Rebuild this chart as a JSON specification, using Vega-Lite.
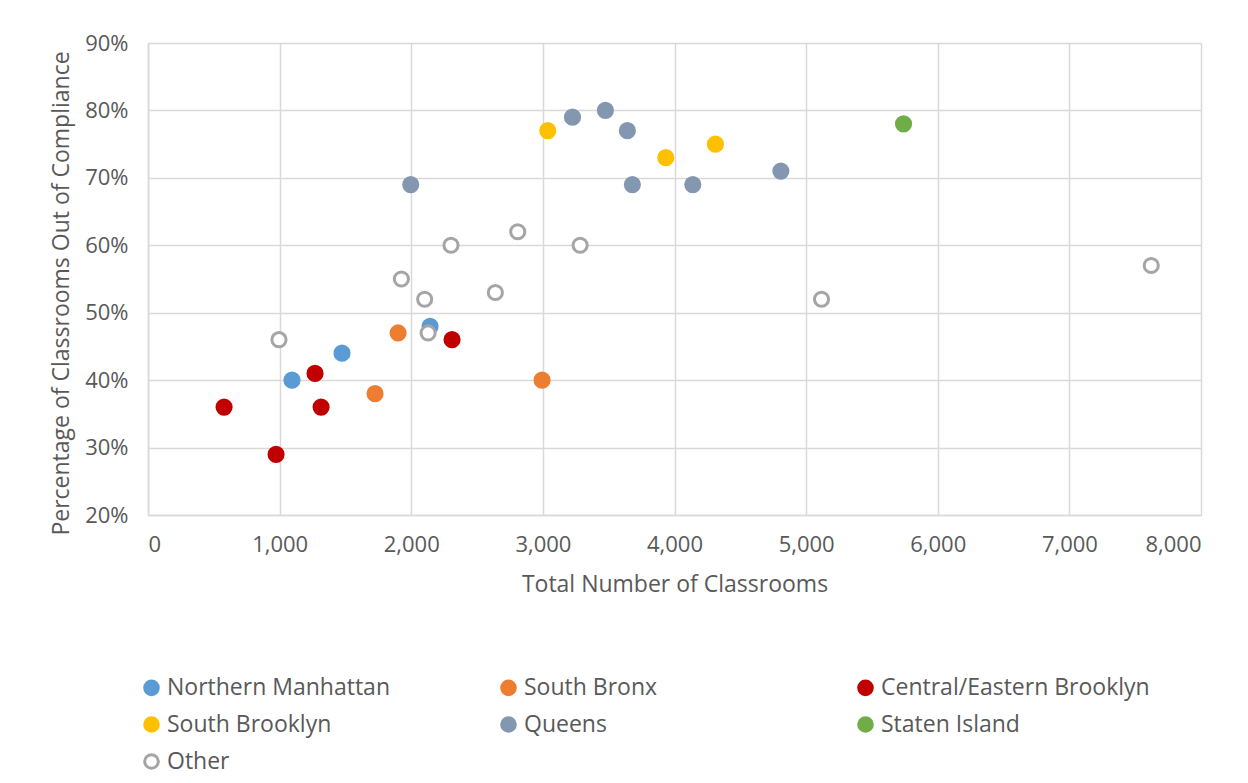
{
  "$schema": "https://vega.github.io/schema/vega-lite/v6.json",
  "autosize": {"type": "none"},
  "width": 1053,
  "height": 472,
  "padding": {"left": 148, "top": 43, "right": 47, "bottom": 268},
  "background": "white",
  "config": {
    "font": "Open Sans",
    "view": {"stroke": null},
    "axis": {
      "labelFont": "Open Sans",
      "titleFont": "Open Sans",
      "labelColor": "#595959",
      "titleColor": "#595959",
      "labelFontSize": 22,
      "titleFontSize": 23,
      "titleFontWeight": "normal",
      "gridColor": "#D9D9D9",
      "gridWidth": 1.5,
      "domainColor": "#D9D9D9",
      "domainWidth": 1.5,
      "ticks": false
    },
    "legend": {
      "labelFont": "Open Sans",
      "labelColor": "#595959",
      "labelFontSize": 23,
      "labelLimit": 500
    }
  },
  "data": {
    "values": [
      {"region": "Northern Manhattan", "classrooms": 1094, "pct": 0.40},
      {"region": "Northern Manhattan", "classrooms": 1474, "pct": 0.44},
      {"region": "Northern Manhattan", "classrooms": 2143, "pct": 0.48},
      {"region": "South Bronx", "classrooms": 1725, "pct": 0.38},
      {"region": "South Bronx", "classrooms": 1900, "pct": 0.47},
      {"region": "South Bronx", "classrooms": 2994, "pct": 0.40},
      {"region": "Central/Eastern Brooklyn", "classrooms": 578, "pct": 0.36},
      {"region": "Central/Eastern Brooklyn", "classrooms": 973, "pct": 0.29},
      {"region": "Central/Eastern Brooklyn", "classrooms": 1269, "pct": 0.41},
      {"region": "Central/Eastern Brooklyn", "classrooms": 1315, "pct": 0.36},
      {"region": "Central/Eastern Brooklyn", "classrooms": 2310, "pct": 0.46},
      {"region": "South Brooklyn", "classrooms": 3037, "pct": 0.77},
      {"region": "South Brooklyn", "classrooms": 3934, "pct": 0.73},
      {"region": "South Brooklyn", "classrooms": 4311, "pct": 0.75},
      {"region": "Queens", "classrooms": 1996, "pct": 0.69},
      {"region": "Queens", "classrooms": 3225, "pct": 0.79},
      {"region": "Queens", "classrooms": 3475, "pct": 0.80},
      {"region": "Queens", "classrooms": 3642, "pct": 0.77},
      {"region": "Queens", "classrooms": 3680, "pct": 0.69},
      {"region": "Queens", "classrooms": 4139, "pct": 0.69},
      {"region": "Queens", "classrooms": 4808, "pct": 0.71},
      {"region": "Staten Island", "classrooms": 5740, "pct": 0.78},
      {"region": "Other", "classrooms": 995, "pct": 0.46},
      {"region": "Other", "classrooms": 1925, "pct": 0.55},
      {"region": "Other", "classrooms": 2102, "pct": 0.52},
      {"region": "Other", "classrooms": 2128, "pct": 0.47},
      {"region": "Other", "classrooms": 2302, "pct": 0.60},
      {"region": "Other", "classrooms": 2639, "pct": 0.53},
      {"region": "Other", "classrooms": 2809, "pct": 0.62},
      {"region": "Other", "classrooms": 3283, "pct": 0.60},
      {"region": "Other", "classrooms": 5117, "pct": 0.52},
      {"region": "Other", "classrooms": 7622, "pct": 0.57}
    ]
  },
  "mark": {"type": "point", "shape": "circle", "size": 200, "strokeWidth": 3, "opacity": 1},
  "encoding": {
    "x": {
      "field": "classrooms",
      "type": "quantitative",
      "title": "Total Number of Classrooms",
      "scale": {"domain": [0, 8000], "nice": false},
      "axis": {"values": [0, 1000, 2000, 3000, 4000, 5000, 6000, 7000, 8000], "format": ",d", "labelPadding": 19, "titlePadding": 18}
    },
    "y": {
      "field": "pct",
      "type": "quantitative",
      "title": "Percentage of Classrooms Out of Compliance",
      "scale": {"domain": [0.2, 0.9], "nice": false, "zero": false},
      "axis": {"values": [0.2, 0.3, 0.4, 0.5, 0.6, 0.7, 0.8, 0.9], "format": ".0%", "labelPadding": 20, "titlePadding": 11, "titleY": 250}
    },
    "fill": {
      "field": "region",
      "type": "nominal",
      "scale": {
        "domain": ["Northern Manhattan", "South Bronx", "Central/Eastern Brooklyn", "South Brooklyn", "Queens", "Staten Island", "Other"],
        "range": ["#5B9BD5", "#ED7D31", "#C00000", "#FFC000", "#8497B0", "#70AD47", "#FFFFFF"]
      },
      "legend": {
        "title": null,
        "orient": "none",
        "legendX": -8,
        "legendY": 633,
        "direction": "horizontal",
        "columns": 3,
        "gridAlign": "all",
        "columnPadding": 59,
        "rowPadding": 10,
        "symbolType": "circle",
        "symbolSize": 185,
        "symbolStrokeWidth": 3,
        "labelOffset": 4
      }
    },
    "stroke": {
      "field": "region",
      "type": "nominal",
      "scale": {
        "domain": ["Northern Manhattan", "South Bronx", "Central/Eastern Brooklyn", "South Brooklyn", "Queens", "Staten Island", "Other"],
        "range": ["#5B9BD5", "#ED7D31", "#C00000", "#FFC000", "#8497B0", "#70AD47", "#A5A5A5"]
      },
      "legend": {
        "title": null,
        "orient": "none",
        "legendX": -8,
        "legendY": 633,
        "direction": "horizontal",
        "columns": 3,
        "gridAlign": "all",
        "columnPadding": 59,
        "rowPadding": 10,
        "symbolType": "circle",
        "symbolSize": 185,
        "symbolStrokeWidth": 3,
        "labelOffset": 4
      }
    }
  }
}
